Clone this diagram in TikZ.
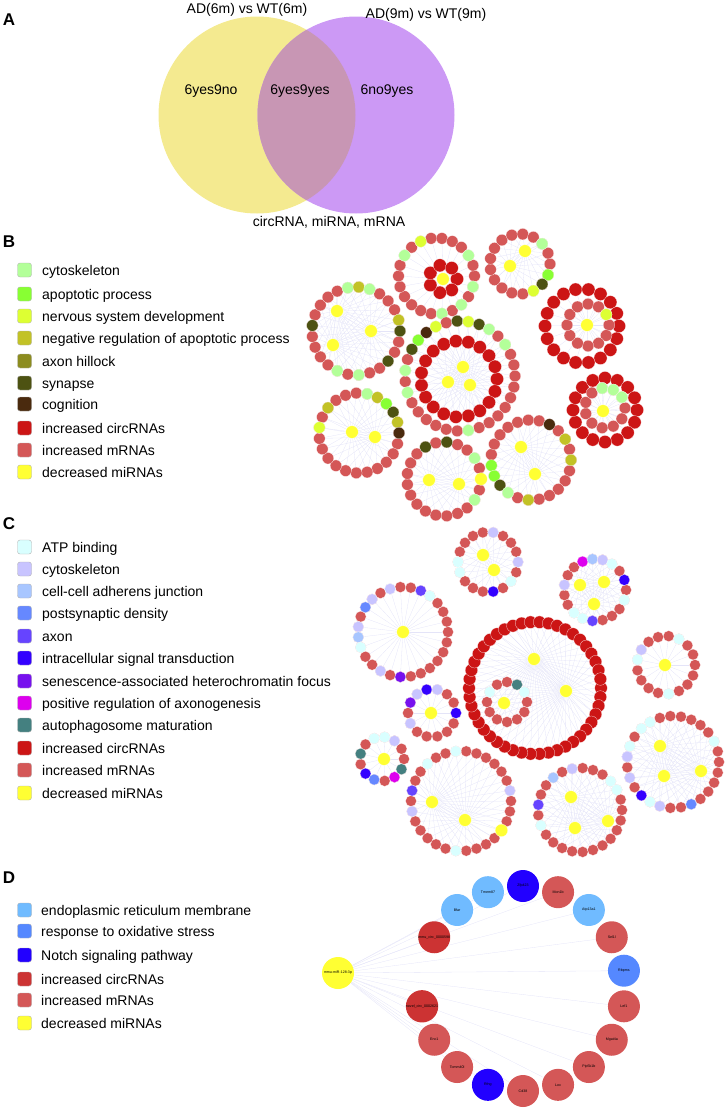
\documentclass[tikz,border=0pt]{standalone}
\usepackage{fontspec}
\setmainfont{Liberation Sans}
\usetikzlibrary{backgrounds}
\definecolor{vYel}{HTML}{F4EA90}
\definecolor{vPur}{HTML}{CC99F5}
\definecolor{vMix}{HTML}{C896B4}
\definecolor{cMR}{HTML}{D45757}
\definecolor{cCI}{HTML}{CC1515}
\definecolor{cMI}{HTML}{FFFF33}
\definecolor{cEdge}{HTML}{E4E4F8}
\definecolor{bCyto}{HTML}{B3FF99}
\definecolor{bApop}{HTML}{88FF33}
\definecolor{bNerv}{HTML}{DDFF33}
\definecolor{bNeg}{HTML}{C2C226}
\definecolor{bAxh}{HTML}{8C8C1F}
\definecolor{bSyn}{HTML}{4D5212}
\definecolor{bCog}{HTML}{4A2A0E}
\definecolor{cATP}{HTML}{D9FFFF}
\definecolor{cCyt}{HTML}{C8C4FF}
\definecolor{cAdh}{HTML}{A8C6FF}
\definecolor{cPsd}{HTML}{6688FF}
\definecolor{cAxon}{HTML}{6644FF}
\definecolor{cIst}{HTML}{3300FF}
\definecolor{cSen}{HTML}{7711EE}
\definecolor{cPax}{HTML}{DD00EE}
\definecolor{cAut}{HTML}{448080}
\definecolor{dER}{HTML}{70BBFF}
\definecolor{dOx}{HTML}{5588FF}
\definecolor{dNotch}{HTML}{2200FF}
\definecolor{dCI}{HTML}{CC3333}
\tikzset{
  dotnode/.style={circle, inner sep=0pt, minimum size=#1, draw=white, line width=0.2pt},
  mrna/.style={dotnode=11.6pt, fill=cMR},
  circ/.style={dotnode=13.2pt, fill=cCI},
  mir/.style={dotnode=12.6pt, fill=cMI},
  smrna/.style={dotnode=11pt, fill=cMR},
  scirc/.style={dotnode=12.6pt, fill=cCI},
  edge/.style={draw=cEdge, line width=0.3pt},
  legbox/.style={rounded corners=2.5pt, draw=black!30, line width=0.4pt, minimum size=14pt, inner sep=0pt},
  legtext/.style={anchor=base west, font=\fontsize{14}{16}\selectfont, inner sep=0pt},
  vtext/.style={anchor=base, font=\fontsize{14}{16}\selectfont, inner sep=0pt},
  panel/.style={anchor=base, font=\fontsize{17}{19}\selectfont\bfseries, inner sep=0pt},
  dnode/.style={circle, inner sep=0pt, minimum size=32pt, font=\fontsize{3.6}{4}\selectfont},
}
% ring: prefix, cx, cy, R, n, start, step, style
\newcommand\ringdef[8]{%
  \def\rp{#1}\def\rcx{#2}\def\rcy{#3}\def\rR{#4}\def\rn{#5}\def\rs{#6}\def\rst{#7}%
  \foreach \i in {1,...,#5}{%
    \pgfmathsetmacro\a{#6+(\i-1)*#7}%
    \node[#8] (#1-\i) at ({#2+#4*cos(\a)},{#3+#4*sin(\a)}) {};
  }}
\newcommand\fullring[6]{\pgfmathsetmacro\stp{360/#5}\ringdef{#1}{#2}{#3}{#4}{#5}{0}{\stp}{#6}}
% coloured node snapped onto current ring: px, py, style
\newcommand\cn[3]{%
  \pgfmathsetmacro\ang{atan2(#2-\rcy,#1-\rcx)}%
  \pgfmathtruncatemacro\kq{mod(round((\ang-\rs)/\rst)+10*\rn,\rn)}%
  \pgfmathtruncatemacro\kk{\kq+1}%
  \pgfmathsetmacro\a{\rs+\kq*\rst}%
  \node[#3] (\rp-\kk) at ({\rcx+\rR*cos(\a)},{\rcy+\rR*sin(\a)}) {};}
\newcommand\spk[3]{%
  \begin{pgfonlayer}{background}
  \foreach \i in {1,...,#3}{\draw[edge] (#1) -- (#2-\i);}
  \end{pgfonlayer}}
\begin{document}
\begin{tikzpicture}[x=1pt,y=-1pt]
\useasboundingbox (0,0) rectangle (727,1109);
% ---------------- Panel A
\node[panel] (pA) at (9,25) {A};
\node[circle, minimum size=197pt, inner sep=0pt, fill=vYel] (vA) at (257,115) {};
\node[circle, minimum size=197pt, inner sep=0pt, fill=vPur] (vB) at (356,115) {};
\begin{scope}
  \clip (257,115) circle (98.5);
  \fill[vMix] (356,115) circle (98.5);
\end{scope}
\node[vtext] (tA) at (247,13) {AD(6m) vs WT(6m)};
\node[vtext] (tB) at (426,18) {AD(9m) vs WT(9m)};
\node[vtext] (t1) at (211,94) {6yes9no};
\node[vtext] (t2) at (300,94) {6yes9yes};
\node[vtext] (t3) at (387,94) {6no9yes};
\node[vtext] (t4) at (329,226) {circRNA, miRNA, mRNA};
% ---------------- Panel B legend
\node[panel] (pB) at (9,247) {B};
\foreach \y/\c/\t [count=\i] in {270/bCyto/{cytoskeleton}, 294/bApop/{apoptotic process}, 316/bNerv/{nervous system development}, 338/bNeg/{negative regulation of apoptotic process}, 361/bAxh/{axon hillock}, 383/bSyn/{synapse}, 404/bCog/{cognition}, 428/cCI/{increased circRNAs}, 450/cMR/{increased mRNAs}, 472/cMI/{decreased miRNAs}}{
  \node[legbox, fill=\c] (lb\i) at (24.5,\y) {};
  \node[legtext] (lt\i) at (42,\y+5) {\t};
}
% ---------------- Panel B network
% B1
\fullring{b1}{436.5}{276}{38}{22}{mrna}
\cn{417}{242}{mrna,fill=bNerv}\cn{403}{256}{mrna,fill=bCyto}\cn{470}{256}{mrna,fill=bCyto}\cn{474}{284}{mrna,fill=bCyto}\cn{464}{303}{mrna,fill=bCyto}\cn{437}{313}{mrna,fill=bCyto}
\fullring{b1i}{443}{279}{14}{7}{circ}
\node[mir] (b1y) at (443,279) {};
\spk{b1y}{b1}{22}
% B2
\fullring{b2}{520}{264}{30}{17}{mrna}
\cn{548}{241}{mrna,fill=bCyto}\cn{552}{271}{mrna,fill=bNeg}\cn{546}{279}{mrna,fill=bApop}\cn{539}{288}{mrna,fill=bSyn}\cn{530}{289}{mrna,fill=bNerv}
\node[mir] (b2y1) at (510,266) {};\node[mir] (b2y2) at (525,251) {};
\spk{b2y1}{b2}{17}\spk{b2y2}{b2}{17}
% B3
\fullring{b3}{356}{331}{44}{25}{mrna}
\cn{348}{284}{mrna,fill=bCyto}\cn{358}{283}{mrna,fill=bNeg}\cn{368}{284}{mrna,fill=bCyto}\cn{311}{331}{mrna,fill=bSyn}\cn{341}{376}{mrna,fill=bCyto}\cn{358}{379}{mrna,fill=bCyto}\cn{393}{366}{mrna,fill=bSyn}\cn{405}{323}{mrna,fill=bNeg}\cn{407}{334}{mrna,fill=bSyn}
\node[mir] (b3y1) at (337,311) {};\node[mir] (b3y2) at (371,331) {};\node[mir] (b3y3) at (333,345) {};
\spk{b3y1}{b3}{25}\spk{b3y2}{b3}{25}\spk{b3y3}{b3}{25}
% B4
\fullring{b4}{460}{376}{55}{31}{mrna}
\cn{416}{344}{mrna,fill=bApop}\cn{423}{336}{mrna,fill=bCog}\cn{433}{330}{mrna,fill=bNerv}\cn{453}{323}{mrna,fill=bSyn}\cn{464}{323}{mrna,fill=bNerv}\cn{475}{326}{mrna,fill=bSyn}\cn{485}{330}{mrna,fill=bCyto}\cn{502}{344}{mrna,fill=bCyto}\cn{411}{354}{mrna,fill=bSyn}\cn{404}{375}{mrna,fill=bCyto}\cn{408}{396}{mrna,fill=bCyto}\cn{470}{431}{mrna,fill=bCyto}
\fullring{b4i}{459}{379}{38}{19}{circ}
\node[mir] (b4y1) at (463,367) {};\node[mir] (b4y2) at (448,382) {};\node[mir] (b4y3) at (470,385) {};
\spk{b4y1}{b4}{31}\spk{b4y2}{b4i}{19}\spk{b4y3}{b4}{31}
% B5
\fullring{b5}{582}{326}{37}{18}{circ}
\fullring{b5i}{588}{325}{21}{12}{mrna}
\cn{604}{312}{mrna,fill=bNerv}
\node[mir] (b5y) at (587,325) {};
\spk{b5y}{b5i}{12}\spk{b5y}{b5}{18}
% B6
\fullring{b6}{605}{410}{32}{16}{circ}
\fullring{b6i}{605}{408}{20}{11}{mrna}
\cn{603}{388}{mrna,fill=bCyto}\cn{612}{389}{mrna,fill=bCyto}\cn{620}{392}{mrna,fill=bNeg}\cn{624}{399}{mrna,fill=bCyto}
\node[mir] (b6y) at (603,411) {};
\spk{b6y}{b6i}{11}\spk{b6y}{b6}{16}
% B7
\fullring{b7}{359}{433}{40}{23}{mrna}
\cn{369}{392}{mrna,fill=bCyto}\cn{379}{396}{mrna,fill=bNeg}\cn{388}{402}{mrna,fill=bApop}\cn{394}{409}{mrna,fill=bSyn}\cn{400}{419}{mrna,fill=bNeg}\cn{325}{409}{mrna,fill=bNeg}\cn{318}{428}{mrna,fill=bNerv}\cn{402}{433}{mrna,fill=bCog}
\node[mir] (b7y1) at (352,432) {};\node[mir] (b7y2) at (375,437) {};
\spk{b7y1}{b7}{23}\spk{b7y2}{b7}{23}
% B8
\fullring{b8}{444}{479}{37}{21}{mrna}
\cn{421}{450}{mrna,fill=bSyn}\cn{443}{442}{mrna,fill=bSyn}\cn{474}{458}{mrna,fill=bCyto}\cn{474}{503}{mrna,fill=bCyto}\cn{482}{481}{mir}
\node[mir] (b8y1) at (429,480) {};\node[mir] (b8y2) at (459,484) {};
\spk{b8y1}{b8}{21}\spk{b8y2}{b8}{21}
% B9
\fullring{b9}{531}{460}{40}{23}{mrna}
\cn{549}{422}{mrna,fill=bCog}\cn{569}{442}{mrna,fill=bNeg}\cn{573}{459}{mrna,fill=bNeg}\cn{489}{469}{mrna,fill=bApop}\cn{493}{478}{mrna,fill=bApop}\cn{497}{486}{mrna,fill=bSyn}\cn{504}{493}{mrna,fill=bCyto}\cn{531}{502}{mrna,fill=bNeg}
\node[mir] (b9y1) at (521,447) {};\node[mir] (b9y2) at (535,474) {};
\spk{b9y1}{b9}{23}\spk{b9y2}{b9}{23}
% ---------------- Panel C legend
\node[panel] (pC) at (9,529) {C};
\foreach \y/\c/\t [count=\i] in {547/cATP/{ATP binding}, 569/cCyt/{cytoskeleton}, 591/cAdh/{cell-cell adherens junction}, 613/cPsd/{postsynaptic density}, 636/cAxon/{axon}, 658/cIst/{intracellular signal transduction}, 681/cSen/{senescence-associated heterochromatin focus}, 703/cPax/{positive regulation of axonogenesis}, 725/cAut/{autophagosome maturation}, 748/cCI/{increased circRNAs}, 770/cMR/{increased mRNAs}, 793/cMI/{decreased miRNAs}}{
  \node[legbox, fill=\c] (lc\i) at (24.5,\y) {};
  \node[legtext] (ltc\i) at (42,\y+5) {\t};
}
% ---------------- Panel C network
% C1
\fullring{c1}{488}{562}{30}{18}{smrna}
\cn{492}{534}{smrna,fill=cCyt}\cn{516}{560}{smrna,fill=cCyt}\cn{457}{560}{smrna,fill=cATP}\cn{457}{570}{smrna,fill=cATP}\cn{512}{579}{smrna,fill=cATP}\cn{493}{592}{smrna,fill=cIst}
\node[mir] (c1y1) at (483,555) {};\node[mir] (c1y2) at (494,570) {};
\spk{c1y1}{c1}{18}\spk{c1y2}{c1}{18}
% C2
\fullring{c2}{595}{590}{31}{19}{smrna}
\cn{583}{562}{smrna,fill=cPax}\cn{594}{560}{smrna,fill=cAdh}\cn{605}{562}{smrna,fill=cCyt}\cn{615}{567}{smrna,fill=cATP}\cn{622}{576}{smrna,fill=cIst}\cn{626}{597}{smrna,fill=cATP}\cn{562}{586}{smrna,fill=cCyt}\cn{573}{616}{smrna,fill=cATP}\cn{583}{622}{smrna,fill=cATP}\cn{594}{624}{smrna,fill=cAxon}
\node[mir] (c2y1) at (580,585) {};\node[mir] (c2y2) at (604,582) {};\node[mir] (c2y3) at (594,604) {};
\spk{c2y1}{c2}{19}\spk{c2y2}{c2}{19}\spk{c2y3}{c2}{19}
% C3
\fullring{c3}{403}{632}{45}{27}{smrna}
\cn{385}{589}{smrna,fill=cATP}\cn{395}{588}{smrna,fill=cCyt}\cn{424}{593}{smrna,fill=cAxon}\cn{434}{596}{smrna,fill=cATP}\cn{369}{603}{smrna,fill=cCyt}\cn{363}{611}{smrna,fill=cPsd}\cn{358}{629}{smrna,fill=cCyt}\cn{358}{639}{smrna,fill=cAdh}\cn{359}{649}{smrna,fill=cATP}\cn{377}{672}{smrna,fill=cCyt}\cn{405}{681}{smrna,fill=cSen}
\node[mir] (c3y) at (403,632) {};
\spk{c3y}{c3}{27}
% C4
\fullring{c4}{535}{688}{66}{46}{scirc}
\node[mir] (c4y1) at (534,659) {};\node[mir] (c4y2) at (566,691) {};
\spk{c4y1}{c4}{46}\spk{c4y2}{c4}{46}
\fullring{c4i}{507}{702}{20}{12}{smrna}
\cn{488}{693}{smrna,fill=cATP}\cn{521}{686}{smrna,fill=cAut}\cn{527}{693}{smrna,fill=cATP}
\node[mir] (c4y3) at (504,703) {};
\spk{c4y3}{c4i}{12}
% C5
\fullring{c5}{666}{665}{29}{17}{smrna}
\cn{680}{638}{smrna,fill=cATP}\cn{643}{648}{smrna,fill=cCyt}\cn{637}{657}{smrna,fill=cATP}\cn{666}{694}{smrna,fill=cATP}
\node[mir] (c5y) at (665,665) {};
\spk{c5y}{c5}{17}
% C6
\fullring{c6}{432}{713}{24}{14}{smrna}
\cn{423}{689}{smrna,fill=cIst}\cn{433}{687}{smrna,fill=cCyt}\cn{415}{695}{smrna,fill=cCyt}\cn{408}{703}{smrna,fill=cSen}\cn{408}{724}{smrna,fill=cCyt}\cn{458}{717}{smrna,fill=cIst}
\node[mir] (c6y) at (431,713) {};
\spk{c6y}{c6}{14}
% C7
\fullring{c7}{382}{759}{22}{13}{smrna}
\cn{369}{739}{smrna,fill=cATP}\cn{389}{736}{smrna,fill=cATP}\cn{398}{740}{smrna,fill=cCyt}\cn{361}{757}{smrna,fill=cAut}\cn{366}{775}{smrna,fill=cIst}\cn{375}{781}{smrna,fill=cPsd}\cn{394}{782}{smrna,fill=cPax}\cn{402}{775}{smrna,fill=cAut}
\node[mir] (c7y) at (384,759) {};
\spk{c7y}{c7}{13}
% C8
\fullring{c8}{461}{801}{50}{30}{smrna}
\cn{426}{764}{smrna,fill=cATP}\cn{451}{753}{smrna,fill=cATP}\cn{410}{788}{smrna,fill=cAxon}\cn{508}{788}{smrna,fill=cCyt}\cn{411}{816}{smrna,fill=cCyt}\cn{451}{852}{smrna,fill=cATP}\cn{501}{832}{mir}
\node[mir] (c8y1) at (432,802) {};\node[mir] (c8y2) at (465,820) {};
\spk{c8y1}{c8}{30}\spk{c8y2}{c8}{30}
% C9
\fullring{c9}{580}{810}{42}{25}{smrna}
\cn{557}{776}{smrna,fill=cAdh}\cn{576}{768}{smrna,fill=cCyt}\cn{613}{783}{smrna,fill=cATP}\cn{619}{793}{smrna,fill=cATP}\cn{539}{800}{smrna,fill=cAxon}\cn{541}{829}{smrna,fill=cATP}
\node[mir] (c9y1) at (571,797) {};\node[mir] (c9y2) at (608,821) {};\node[mir] (c9y3) at (575,828) {};
\spk{c9y1}{c9}{25}\spk{c9y2}{c9}{25}\spk{c9y3}{c9}{25}
% C10
\fullring{c10}{673}{762}{46}{27}{smrna}
\cn{643}{724}{smrna,fill=cATP}\cn{652}{718}{smrna,fill=cATP}\cn{717}{741}{smrna,fill=cATP}\cn{628}{742}{smrna,fill=cATP}\cn{627}{752}{smrna,fill=cAxon}\cn{626}{762}{smrna,fill=cCyt}\cn{630}{782}{smrna,fill=cCyt}\cn{644}{798}{smrna,fill=cIst}\cn{653}{804}{smrna,fill=cATP}\cn{662}{808}{smrna,fill=cCyt}\cn{694}{803}{smrna,fill=cPsd}
\node[mir] (c10y1) at (660,746) {};\node[mir] (c10y2) at (701,771) {};\node[mir] (c10y3) at (664,776) {};
\spk{c10y1}{c10}{27}\spk{c10y2}{c10}{27}\spk{c10y3}{c10}{27}
% ---------------- Panel D legend
\node[panel] (pD) at (9,883) {D};
\foreach \y/\c/\t [count=\i] in {910/dER/{endoplasmic reticulum membrane}, 931/dOx/{response to oxidative stress}, 955/dNotch/{Notch signaling pathway}, 979/dCI/{increased circRNAs}, 1000/cMR/{increased mRNAs}, 1023/cMI/{decreased miRNAs}}{
  \node[legbox, fill=\c] (ld\i) at (24.5,\y) {};
  \node[legtext] (ltd\i) at (41,\y+5) {\t};
}
% ---------------- Panel D network
\node[dnode, fill=cMI] (dmir) at (338,973) {mmu-miR-128-3p};
\foreach \a/\c/\t [count=\i] in {90/dNotch/Zfp423, 70/cMR/Mon1b, 50/dER/Atp13a1, 30/cMR/Sel1l, 10/dOx/Rbpms, -10/cMR/Lef1, -30/cMR/Mgat4a, -50/cMR/Pip5k1b, -70/cMR/Lox, -90/cMR/Cd38, -110/dNotch/Rfng, -130/cMR/Tomm40l, -150/cMR/Enc1, -170/dCI/{novel\_circ\_0002621}, 150/dCI/{mmu\_circ\_0000598}, 130/dER/Bfar, 110/dER/Tmem87}{
  \node[dnode, fill=\c] (dn\i) at ({523+102.5*cos(\a)},{988.5-102.5*sin(\a)}) {\t};
}
\begin{pgfonlayer}{background}
\foreach \i in {1,...,17}{\draw[edge] (dmir) -- (dn\i);}
\end{pgfonlayer}
\end{tikzpicture}
\end{document}
